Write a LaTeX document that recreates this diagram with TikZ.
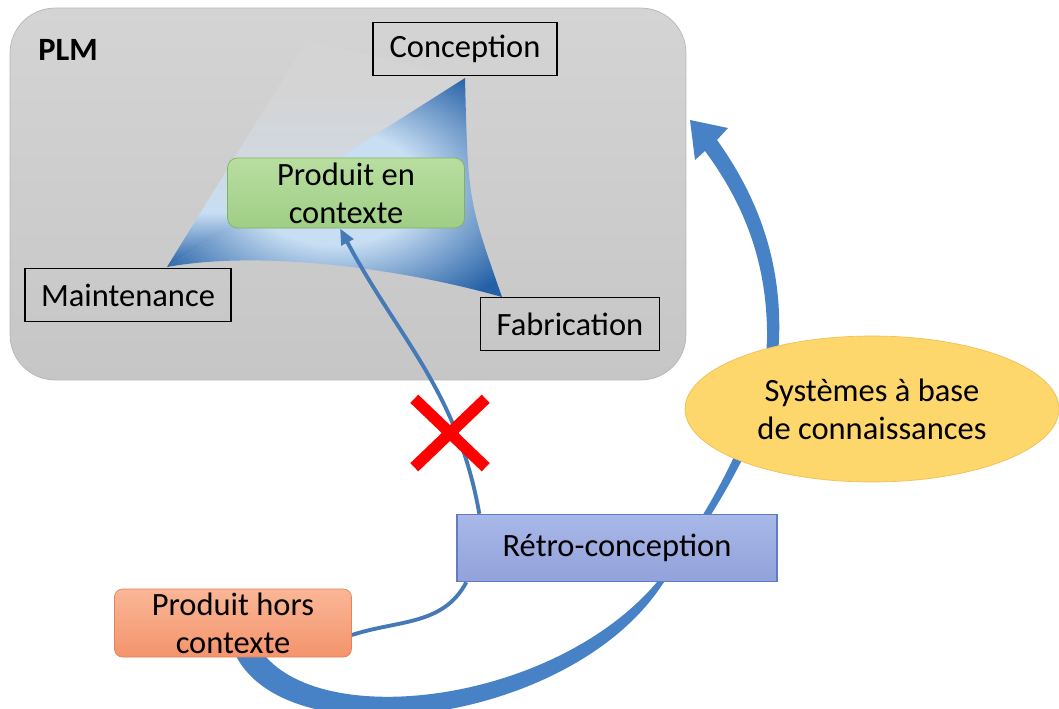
\documentclass[tikz,border=0pt]{standalone}
\usepackage{fontspec}
\setmainfont{Carlito}
\usepackage{tikz}
\usetikzlibrary{arrows,arrows.meta,shapes}
\pgfdeclarelayer{background}
\pgfdeclarelayer{links}
\pgfsetlayers{background,links,main}
\definecolor{plmtop}{RGB}{212,212,212}
\definecolor{plmbottom}{RGB}{198,198,198}
\definecolor{plmedge}{RGB}{182,182,182}
\definecolor{pyrlight}{RGB}{200,222,243}
\definecolor{pyrdark}{RGB}{36,96,166}
\definecolor{greentop}{RGB}{184,222,160}
\definecolor{greenbottom}{RGB}{160,206,134}
\definecolor{greenedge}{RGB}{128,178,100}
\definecolor{salmontop}{RGB}{250,182,150}
\definecolor{salmonbottom}{RGB}{244,148,108}
\definecolor{salmonedge}{RGB}{228,130,90}
\definecolor{retrotop}{RGB}{168,184,232}
\definecolor{retrobottom}{RGB}{146,162,218}
\definecolor{retroedge}{RGB}{98,124,196}
\definecolor{kbsfill}{RGB}{253,214,108}
\definecolor{kbsedge}{RGB}{240,192,84}
\definecolor{linkblue}{RGB}{70,122,182}
\definecolor{arrowblue}{RGB}{72,130,198}
\definecolor{pyrhaze}{RGB}{210,215,221}
\pgfdeclareradialshading{pyramidface}{\pgfpoint{0bp}{0bp}}{color(0bp)=(pyrlight); color(13bp)=(pyrlight); color(32bp)=(pyrdark); color(50bp)=(pyrdark)}
\pgfdeclareverticalshading{pyramidback}{100bp}{color(0bp)=(pyrdark); color(25bp)=(pyrdark); color(37bp)=(pyrlight); color(52bp)=(pyrhaze); color(64bp)=(plmtop); color(100bp)=(plmtop)}
\tikzstyle{plmbox}=[rectangle,rounded corners=0.9cm,draw=plmedge,top color=plmtop,bottom color=plmbottom,minimum width=13.52cm,minimum height=7.44cm]
\tikzstyle{phase}=[rectangle,draw=black,line width=0.8pt,minimum height=1.06cm,inner sep=0pt]
\tikzstyle{incontext}=[rectangle,rounded corners=0.2cm,draw=greenedge,top color=greentop,bottom color=greenbottom,align=center,minimum width=4.74cm,minimum height=1.4cm,inner sep=0pt]
\tikzstyle{outcontext}=[rectangle,rounded corners=0.16cm,draw=salmonedge,top color=salmontop,bottom color=salmonbottom,align=center,minimum width=4.74cm,minimum height=1.36cm,inner sep=0pt]
\tikzstyle{retrobox}=[rectangle,draw=retroedge,line width=0.8pt,top color=retrotop,bottom color=retrobottom,minimum width=6.4cm,minimum height=1.34cm]
\tikzstyle{kbs}=[ellipse,draw=kbsedge,fill=kbsfill,align=center,minimum width=7.48cm,minimum height=2.92cm,inner sep=0pt]
\tikzstyle{stopmark}=[cross out,draw=red,line width=6.5pt,minimum width=1.2cm,minimum height=1.14cm,inner sep=0pt]
\tikzstyle{thinlink}=[draw,line width=2.2pt,linkblue]

\begin{document}
\begin{tikzpicture}[x=0.02cm,y=-0.02cm,font=\fontsize{18.5}{21.5}\selectfont]
    \useasboundingbox (0,0) rectangle (1059,708);
    % The PLM frame and its pyramid go to the back
    \begin{pgfonlayer}{background}
        \node[plmbox] (plm) at (348,194) {};
        \coordinate (apex) at (307,40);
        \coordinate (pm) at (167,267);
        \coordinate (pc) at (465,78);
        \coordinate (pf) at (502,297);
        \shade[shading=pyramidback] (apex) -- (pm) -- (pc) -- cycle;
        \shade[shading=pyramidface] (pm) -- (pc) .. controls (468,200) .. (pf)
            .. controls (400,268) and (260,250) .. (pm) -- cycle;
    \end{pgfonlayer}
    \node[font=\fontsize{18.5}{21.5}\selectfont\bfseries] (plmlabel) at (68,50) {PLM};
    % Now the phases of the life cycle
    \foreach \pos/\name/\boxw in {{(465,49)/Conception/3.68cm}, {(128,295)/Maintenance/4.12cm}, {(570,324)/Fabrication/3.58cm}}
        \node[phase,minimum width=\boxw] (\name) at \pos {\name};
    \node[incontext] (pec) at (346,193) {Produit en\\contexte};
    % The nodes outside the PLM
    \node[kbs] (kbs) at (872,409) {Systèmes à base\\de connaissances};
    \node[retrobox] (retro) at (617,548) {Rétro-conception};
    \node[outcontext] (hors) at (233,623) {Produit hors\\contexte};
    % Connect them
    \begin{pgfonlayer}{links}
        \fill[arrowblue] (236,656) .. controls (290,760) and (570,724) .. (662,585)
            .. controls (712,520) and (775,420) .. (779,340)
            .. controls (782,265) and (760,200) .. (717,140)
            -- (728,128) -- (690,120) -- (695,160) -- (705,151)
            .. controls (745,205) and (768,265) .. (767,340)
            .. controls (764,410) and (718,502) .. (657,582)
            .. controls (552,706) and (310,733) .. (258,646) -- cycle;
        \path[thinlink,-{Triangle[length=0.32cm,width=0.26cm]}] ([xshift=0.46cm]retro.north west)
            to[out=100,in=-62] ([xshift=-0.12cm]pec.south);
        \path[thinlink] ([yshift=-0.24cm]hors.east) to[out=18,in=-118] ([xshift=0.2cm]retro.south west);
    \end{pgfonlayer}
    \node[stopmark] (stop) at (450,433) {};
\end{tikzpicture}
\end{document}
